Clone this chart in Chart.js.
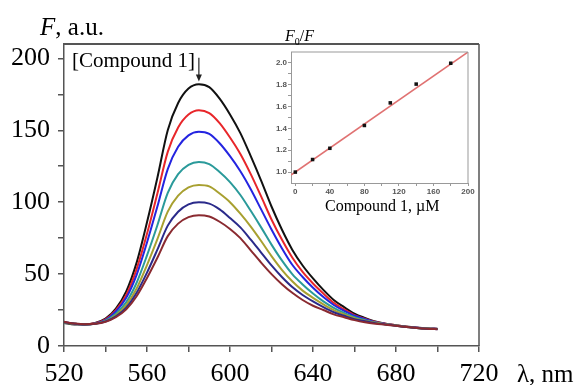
<!DOCTYPE html>
<html>
<head>
<meta charset="utf-8">
<script src="https://cdn.jsdelivr.net/npm/chart.js@4.4.1/dist/chart.umd.min.js"></script>
<style>
  html, body { margin: 0; padding: 0; background: #fff; }
  #wrap { position: relative; width: 582px; height: 385px; overflow: hidden; }
  #main { position: absolute; left: 0; top: 0; }
  #inset { position: absolute; left: 250px; top: 25px; }
  .lbl { position: absolute; font-family: "Liberation Serif", "Times New Roman", serif; color: #000; line-height: 1; white-space: nowrap; }
</style>
</head>
<body>
<div id="wrap">
  <canvas id="main" width="582" height="385"></canvas>
  <canvas id="inset" width="230" height="200"></canvas>
  <div class="lbl" style="left:40px; top:14px; font-size:25px;"><i>F</i>, a.u.</div>
  <div class="lbl" style="left:517px; top:361px; font-size:25px;">λ, nm</div>
  <div class="lbl" style="left:72px; top:50px; font-size:21px;">[Compound 1]</div>
  <div class="lbl" style="left:285px; top:28px; font-size:16px;"><i>F</i><sub style="font-size:10px;">0</sub>/<i>F</i></div>
  <div class="lbl" style="left:325px; top:198px; font-size:16px;">Compound 1, µM</div>
</div>
<script>
"use strict";

// emission spectra, 520..700 nm every 5 nm
const wavelengths = [520, 525, 530, 535, 540, 545, 550, 555, 560, 565, 570, 575, 580, 585, 590, 595,
  600, 605, 610, 615, 620, 625, 630, 635, 640, 645, 650, 655, 660, 665, 670, 675, 680, 685, 690, 695, 700];

const curveBlack = [16, 15, 15, 16, 19, 26, 38, 58, 86, 117, 150, 169, 179, 182, 180, 172,
  161, 148, 132, 115, 97, 81, 67, 56, 47, 39, 32, 27, 22.5, 19.5, 17, 15.5, 14.5, 13.5, 12.8, 12.3, 12];
const curveRed = [16.5, 15.5, 15, 15.8, 18.5, 25, 35.5, 53.5, 78, 106, 135, 152, 161, 164, 162, 155,
  145, 133.5, 119.5, 104, 88, 74, 61.5, 51.5, 43.5, 36.5, 30, 25.5, 21.5, 19, 16.8, 15.4, 14.4, 13.4, 12.7, 12.2, 11.9];
const curveBlue = [16.5, 15.5, 15, 15.6, 18, 24, 33.5, 49.5, 72, 97, 123, 138.5, 146.5, 149, 147.5, 141,
  132, 121.5, 109, 95, 81, 68, 56.5, 48, 40.5, 34, 28.5, 24.5, 21, 18.6, 16.6, 15.3, 14.3, 13.3, 12.7, 12.2, 11.9];
const curveTeal = [16.3, 15.4, 15, 15.5, 17.7, 22.4, 30.5, 44, 63, 84, 106.5, 119.5, 126, 128, 126.5, 121,
  114, 105, 94, 82.5, 70.5, 59.5, 50, 42.8, 36.5, 31, 26.5, 23, 20, 18, 16.4, 15.2, 14.2, 13.3, 12.6, 12.1, 11.8];
const curveOlive = [16.3, 15.4, 15, 15.4, 17.3, 21.4, 28.4, 40, 56.3, 74.3, 93.4, 104.5, 110.3, 112, 111, 106,
  100, 92, 83, 73, 62.5, 53, 45, 38.5, 33.5, 29, 25, 22, 19.4, 17.6, 16.2, 15.1, 14.2, 13.2, 12.6, 12.1, 11.8];
const curveNavy = [16.5, 15.5, 15, 15.4, 17, 20.6, 26.7, 37, 51, 67, 83.7, 93.4, 98.5, 100, 99, 95,
  89, 82.5, 74, 65, 56, 48, 41, 35.5, 31, 27, 23.5, 21, 18.7, 17.2, 15.9, 15, 14.1, 13.2, 12.5, 12, 11.7];
const curveMaroon = [16.8, 15.7, 15.1, 15.4, 16.8, 20, 25.5, 34.6, 47.3, 61.4, 76.4, 85.1, 89.6, 91, 90, 86.4,
  81.4, 75, 66.5, 58, 50, 43, 37, 32, 28, 25, 22, 20, 18, 16.5, 15.5, 14.8, 14, 13.2, 12.5, 12, 11.7];

const xTicks = [520, 540, 560, 580, 600, 620, 640, 660, 680, 700, 720];
const yTicks = [0, 25, 50, 75, 100, 125, 150, 175, 200];

// Stern-Volmer inset
const conc = [0, 20, 40, 80, 110, 140, 180];
const ratio = [1.0, 1.115, 1.218, 1.427, 1.634, 1.806, 1.997];
const fitX = [-5, 200];
const fitY = [0.973, 2.10];
const insetXTicks = [0, 20, 40, 60, 80, 100, 120, 140, 160, 180, 200];
const insetYTicks = [1.0, 1.1, 1.2, 1.3, 1.4, 1.5, 1.6, 1.7, 1.8, 1.9, 2.0];

const series = [
  { data: curveMaroon, color: "#8a2a30" },
  { data: curveNavy, color: "#2a2a8a" },
  { data: curveOlive, color: "#a8a030" },
  { data: curveTeal, color: "#2a9a9a" },
  { data: curveBlue, color: "#2424e0" },
  { data: curveRed, color: "#e8262a" },
  { data: curveBlack, color: "#111111" },
];

const serif = "'Liberation Serif', 'Times New Roman', serif";

// top/right frame lines + arrow above the peak
const framePlugin = {
  id: "frame",
  afterDraw(chart, args, opts) {
    const { ctx, chartArea: a } = chart;
    ctx.save();
    ctx.strokeStyle = opts.color;
    ctx.lineWidth = opts.top;
    ctx.beginPath();
    ctx.moveTo(a.left, a.top);
    ctx.lineTo(a.right, a.top);
    ctx.stroke();
    ctx.lineWidth = opts.right;
    ctx.beginPath();
    ctx.moveTo(a.right, a.top);
    ctx.lineTo(a.right, a.bottom);
    ctx.stroke();
    if (opts.arrow) {
      const xs = chart.scales.x, ys = chart.scales.y;
      const x = xs.getPixelForValue(opts.arrow.x);
      const y0 = ys.getPixelForValue(opts.arrow.from);
      const y1 = ys.getPixelForValue(opts.arrow.to);
      ctx.strokeStyle = "#222";
      ctx.fillStyle = "#222";
      ctx.lineWidth = 1.2;
      ctx.beginPath();
      ctx.moveTo(x, y0);
      ctx.lineTo(x, y1 - 6);
      ctx.stroke();
      ctx.beginPath();
      ctx.moveTo(x - 3, y1 - 7);
      ctx.lineTo(x + 3, y1 - 7);
      ctx.lineTo(x, y1);
      ctx.closePath();
      ctx.fill();
    }
    ctx.restore();
  },
};

new Chart(document.getElementById("main"), {
  type: "line",
  data: {
    datasets: series.map(s => ({
      data: wavelengths.map((w, i) => ({ x: w, y: s.data[i] })),
      borderColor: s.color,
      borderWidth: 2,
      pointRadius: 0,
      cubicInterpolationMode: "monotone",
      fill: false,
    })),
  },
  options: {
    responsive: false,
    animation: false,
    layout: { padding: { top: 44, right: 103, left: 0, bottom: 0 } },
    plugins: {
      legend: { display: false },
      tooltip: { enabled: false },
      frame: { color: "#555", top: 2, right: 1.5, arrow: { x: 585, from: 200.5, to: 184 } },
    },
    scales: {
      x: {
        type: "linear",
        min: 520,
        max: 720,
        afterBuildTicks: s => { s.ticks = xTicks.map(v => ({ value: v })); },
        afterFit: s => { s.height = 39; },
        ticks: {
          autoSkip: false,
          maxRotation: 0,
          padding: 7,
          color: "#000",
          font: { family: serif, size: 26 },
          callback: v => (v % 40 === 0 ? String(v) : ""),
        },
        grid: { drawOnChartArea: false, tickLength: 6, color: "#555", lineWidth: 1.5 },
        border: { color: "#555", width: 1.5 },
      },
      y: {
        min: 0,
        max: 210,
        afterBuildTicks: s => { s.ticks = yTicks.map(v => ({ value: v })); },
        afterFit: s => { s.width = 64; },
        ticks: {
          autoSkip: false,
          padding: 8,
          color: "#000",
          font: { family: serif, size: 26 },
          callback: v => (v % 50 === 0 ? String(v) : ""),
        },
        grid: { drawOnChartArea: false, tickLength: 6, color: "#555", lineWidth: 1.5 },
        border: { color: "#555", width: 1.5 },
      },
    },
  },
  plugins: [framePlugin],
});

const tickFont = { family: "'Liberation Sans', Arial, sans-serif", size: 8, weight: "bold" };

new Chart(document.getElementById("inset"), {
  type: "scatter",
  data: {
    datasets: [
      {
        data: conc.map((c, i) => ({ x: c, y: ratio[i] })),
        backgroundColor: "#111",
        borderColor: "#111",
        pointStyle: "rect",
        pointRadius: 2.5,
        borderWidth: 0,
        order: 0,
      },
      {
        type: "line",
        data: fitX.map((x, i) => ({ x, y: fitY[i] })),
        borderColor: "#e07272",
        borderWidth: 1.5,
        pointRadius: 0,
        order: 1,
      },
    ],
  },
  options: {
    responsive: false,
    animation: false,
    layout: { padding: { top: 27, right: 12, left: 0, bottom: 0 } },
    plugins: {
      legend: { display: false },
      tooltip: { enabled: false },
      frame: { color: "#999", top: 1, right: 1 },
    },
    scales: {
      x: {
        type: "linear",
        min: -5,
        max: 200,
        afterBuildTicks: s => { s.ticks = insetXTicks.map(v => ({ value: v })); },
        afterFit: s => { s.height = 42; },
        ticks: {
          autoSkip: false,
          maxRotation: 0,
          padding: 1,
          color: "#555",
          font: tickFont,
          callback: v => (v % 40 === 0 ? String(v) : ""),
        },
        grid: { drawOnChartArea: false, tickLength: 3, color: "#999", lineWidth: 1 },
        border: { color: "#999", width: 1 },
      },
      y: {
        min: 0.9,
        max: 2.1,
        afterBuildTicks: s => { s.ticks = insetYTicks.map(v => ({ value: v })); },
        afterFit: s => { s.width = 41; },
        ticks: {
          autoSkip: false,
          padding: 1,
          color: "#555",
          font: tickFont,
          callback: v => (Math.round(v * 10) % 2 === 0 ? v.toFixed(1) : ""),
        },
        grid: { drawOnChartArea: false, tickLength: 3, color: "#999", lineWidth: 1 },
        border: { color: "#999", width: 1 },
      },
    },
  },
  plugins: [framePlugin],
});
</script>
</body>
</html>
